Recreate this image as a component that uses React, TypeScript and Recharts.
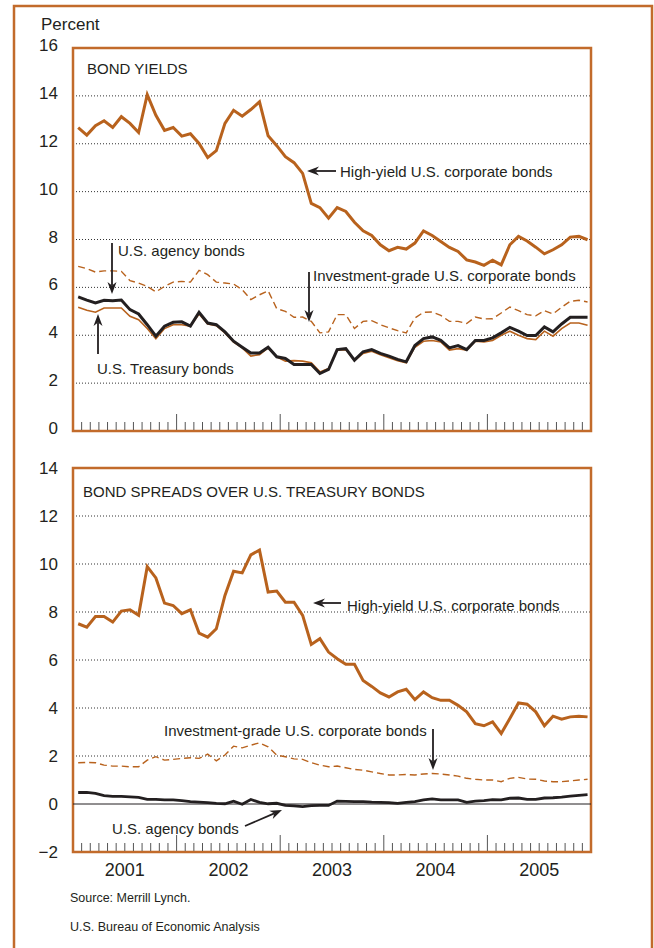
import React from 'react'
import {
  LineChart,
  Line,
  XAxis,
  YAxis,
  CartesianGrid,
  ReferenceArea,
  ReferenceLine
} from 'recharts'

// monthly readings, Jan 2001 - Dec 2005
const years = ['2001', '2002', '2003', '2004', '2005']

const highYieldYield = [
  12.67, 12.36, 12.75, 12.96, 12.68, 13.13, 12.85, 12.47, 14.05, 13.19,
  12.56, 12.68, 12.32, 12.42, 12.01, 11.42, 11.71, 12.85, 13.4, 13.15,
  13.43, 13.75, 12.33, 11.92, 11.46, 11.21, 10.76, 9.51, 9.33, 8.89,
  9.33, 9.17, 8.72, 8.36, 8.17, 7.78, 7.53, 7.67, 7.6, 7.85,
  8.36, 8.17, 7.92, 7.67, 7.5, 7.15, 7.06, 6.92, 7.13, 6.94,
  7.78, 8.13, 7.94, 7.68, 7.4, 7.57, 7.78, 8.1, 8.13, 7.99
]
const invGradeYield = [
  6.88, 6.78, 6.64, 6.69, 6.69, 6.67, 6.28, 6.18, 6.04, 5.81,
  6.04, 6.22, 6.25, 6.22, 6.71, 6.53, 6.22, 6.18, 6.14, 5.9,
  5.49, 5.69, 5.86, 5.11, 5.0, 4.75, 4.76, 4.58, 4.1, 4.14,
  4.86, 4.86, 4.28, 4.58, 4.61, 4.44, 4.31, 4.19, 4.1, 4.72,
  4.96, 4.97, 4.83, 4.58, 4.58, 4.49, 4.76, 4.68, 4.69, 4.93,
  5.18, 5.03, 4.86, 4.81, 5.03, 4.89, 5.17, 5.42, 5.46, 5.39
]
const agencyYield = [
  5.6, 5.47, 5.35, 5.46, 5.44, 5.47, 5.07, 4.89, 4.44, 3.96,
  4.38, 4.54, 4.56, 4.38, 4.96, 4.51, 4.44, 4.14, 3.75, 3.5,
  3.26, 3.26, 3.5, 3.1, 3.03, 2.78, 2.78, 2.78, 2.4, 2.57,
  3.4, 3.44, 2.96, 3.31, 3.4, 3.24, 3.13, 2.99, 2.89, 3.57,
  3.86, 3.93, 3.79, 3.47, 3.57, 3.4, 3.78, 3.78, 3.89, 4.1,
  4.33, 4.17, 3.99, 3.99, 4.35, 4.14, 4.47, 4.75, 4.75, 4.75
]
const treasuryYield = [
  5.17, 5.04, 4.96, 5.14, 5.14, 5.14, 4.79, 4.65, 4.28, 3.85,
  4.28, 4.44, 4.44, 4.38, 4.89, 4.47, 4.4, 4.1, 3.71, 3.47,
  3.13, 3.19, 3.47, 3.1, 2.92, 2.94, 2.92, 2.85, 2.47, 2.61,
  3.38, 3.4, 2.94, 3.24, 3.33, 3.19, 3.06, 2.94, 2.85, 3.5,
  3.75, 3.78, 3.72, 3.38, 3.44, 3.38, 3.75, 3.72, 3.78, 4.0,
  4.17, 4.0, 3.86, 3.82, 4.17, 3.96, 4.28, 4.51, 4.51, 4.42
]

const highYieldSpread = [
  7.51, 7.37, 7.81, 7.81, 7.58, 8.04, 8.09, 7.86, 9.89, 9.42,
  8.37, 8.27, 7.93, 8.09, 7.12, 6.95, 7.3, 8.69, 9.7, 9.63,
  10.38, 10.58, 8.83, 8.87, 8.41, 8.41, 7.86, 6.65, 6.89, 6.33,
  6.05, 5.82, 5.82, 5.15, 4.9, 4.63, 4.46, 4.67, 4.78, 4.35,
  4.67, 4.43, 4.32, 4.32, 4.11, 3.84, 3.35, 3.26, 3.42, 2.94,
  3.56, 4.21, 4.16, 3.84, 3.26, 3.66, 3.53, 3.63, 3.66, 3.63
]
const invGradeSpread = [
  1.72, 1.73, 1.72, 1.62, 1.58, 1.58, 1.55, 1.55, 1.83, 1.97,
  1.83, 1.86, 1.9, 1.93, 1.9, 2.08, 1.8, 2.04, 2.41, 2.34,
  2.45, 2.55, 2.38, 2.04, 1.97, 1.88, 1.86, 1.72, 1.62, 1.55,
  1.58, 1.51, 1.44, 1.41, 1.34, 1.27, 1.21, 1.21, 1.23, 1.21,
  1.25, 1.27, 1.25, 1.21, 1.16, 1.07, 1.03, 1.0, 1.0, 0.93,
  1.07, 1.11, 1.04, 1.03, 0.96, 0.93, 0.93, 0.96, 1.0, 1.03
]
const agencySpread = [
  0.48, 0.48, 0.44, 0.35, 0.32, 0.32, 0.3, 0.28, 0.19, 0.19,
  0.17, 0.17, 0.14, 0.1, 0.08, 0.06, 0.03, 0.01, 0.12, -0.01,
  0.19, 0.07, 0.01, 0.03, -0.06, -0.08, -0.11, -0.07, -0.06, -0.06,
  0.12, 0.11, 0.1, 0.1, 0.08, 0.07, 0.06, 0.03, 0.07, 0.1,
  0.17, 0.21, 0.17, 0.17, 0.17, 0.07, 0.12, 0.14, 0.18, 0.17,
  0.24, 0.25, 0.19, 0.19, 0.25, 0.26, 0.29, 0.33, 0.36, 0.39
]

const yieldTicks = [0, 2, 4, 6, 8, 10, 12, 14, 16]
const spreadTicks = [-2, 0, 2, 4, 6, 8, 10, 12, 14]

const monthTicks = Array.from({ length: 61 }, (_, i) => i)

// x = months since Jan 2001, points sit a little past the month start
const yieldData = highYieldYield.map((v, i) => ({
  m: i + 0.6,
  highYield: v,
  invGrade: invGradeYield[i],
  agency: agencyYield[i],
  treasury: treasuryYield[i]
}))
const spreadData = highYieldSpread.map((v, i) => ({
  m: i + 0.6,
  highYield: v,
  invGrade: invGradeSpread[i],
  agency: agencySpread[i]
}))

const orange = '#b8621d'
const border = '#c26b2b'
const ink = '#231f20'
const font = "'Liberation Sans', Arial, Helvetica, sans-serif"

const fmt = (v: number) => (v < 0 ? `\u2212${-v}` : `${v}`)

const makeYTick = (dy: number) => (props: any) => {
  const { x, y, payload } = props
  return (
    <text x={x} y={y + dy} textAnchor="end" dominantBaseline="central"
      fontSize={17} fill={ink} fontFamily={font}>
      {fmt(payload.value)}
    </text>
  )
}

const makeXTick = (showYears: boolean) => (props: any) => {
  const { x, y, payload } = props
  const v = payload.value
  if (v <= 0 || v >= 60) return <g />
  const major = v % 12 === 0
  return (
    <g>
      <line x1={x} x2={x} y1={y - 1} y2={y - (major ? 17 : 9)} stroke="#555" strokeWidth={1} />
      {showYears && v % 12 === 6 && (
        <text x={x} y={y + 18} textAnchor="middle" dominantBaseline="central"
          fontSize={18} fill={ink} fontFamily={font}>
          {years[(v - 6) / 12]}
        </text>
      )}
    </g>
  )
}

const Arrow = ({ x1, y1, x2, y2 }: { x1: number; y1: number; x2: number; y2: number }) => {
  const a = Math.atan2(y2 - y1, x2 - x1)
  const len = 12
  const w = 4.5
  const bx = x2 - len * Math.cos(a)
  const by = y2 - len * Math.sin(a)
  const nx = x2 - len * 0.7 * Math.cos(a)
  const ny = y2 - len * 0.7 * Math.sin(a)
  const px = -Math.sin(a) * w
  const py = Math.cos(a) * w
  return (
    <g>
      <line x1={x1} y1={y1} x2={nx} y2={ny} stroke={ink} strokeWidth={1.8} />
      <polygon
        points={`${x2},${y2} ${bx + px},${by + py} ${nx},${ny} ${bx - px},${by - py}`}
        fill={ink}
      />
    </g>
  )
}

const Label = ({ x, y, text, size = 15 }: { x: number; y: number; text: string; size?: number }) => (
  <text x={x} y={y} dominantBaseline="central" fontSize={size} fill={ink} fontFamily={font}>
    {text}
  </text>
)

const App: React.FC = () => {
  return (
    <div style={{ position: 'absolute', left: 0, top: 0, width: 654, height: 948, overflow: 'hidden', background: '#fff' }}>
      <div style={{ position: 'absolute', left: 0, top: 0 }}>
        <LineChart width={654} height={450} data={yieldData}
          margin={{ top: 48, right: 63, bottom: 0, left: 13 }}>
          <CartesianGrid vertical={false} horizontalValues={[2, 4, 6, 8, 10, 12, 14]}
            stroke="#333" strokeDasharray="1 2" />
          <XAxis dataKey="m" type="number" domain={[0, 60]} ticks={monthTicks} interval={0}
            height={19} axisLine={false} tickLine={false} tickSize={0} tickMargin={0}
            tick={makeXTick(false)} />
          <YAxis type="number" domain={[0, 16]} ticks={yieldTicks} interval={0} width={60}
            axisLine={false} tickLine={false} tickSize={0} tickMargin={15} tick={makeYTick(-2.5)} />
          <Line dataKey="invGrade" stroke={orange} strokeWidth={1.4} strokeDasharray="7 4"
            dot={false} activeDot={false} isAnimationActive={false} />
          <Line dataKey="treasury" stroke={orange} strokeWidth={1.6}
            dot={false} activeDot={false} isAnimationActive={false} />
          <Line dataKey="agency" stroke={ink} strokeWidth={3}
            dot={false} activeDot={false} isAnimationActive={false} />
          <Line dataKey="highYield" stroke={orange} strokeWidth={3}
            dot={false} activeDot={false} isAnimationActive={false} />
          <ReferenceArea x1={0} x2={60} y1={0} y2={16} fill="none" stroke={border} strokeWidth={2.5} />
        </LineChart>
      </div>
      <div style={{ position: 'absolute', left: 0, top: 440 }}>
        <LineChart width={654} height={460} data={spreadData}
          margin={{ top: 28, right: 63, bottom: 0, left: 13 }}>
          <CartesianGrid vertical={false} horizontalValues={[2, 4, 6, 8, 10, 12]}
            stroke="#333" strokeDasharray="1 2" />
          <XAxis dataKey="m" type="number" domain={[0, 60]} ticks={monthTicks} interval={0}
            height={48} axisLine={false} tickLine={false} tickSize={0} tickMargin={0}
            tick={makeXTick(true)} />
          <YAxis type="number" domain={[-2, 14]} ticks={spreadTicks} interval={0} width={60}
            axisLine={false} tickLine={false} tickSize={0} tickMargin={15} tick={makeYTick(0)} />
          <ReferenceLine y={0} stroke={ink} strokeWidth={1} />
          <Line dataKey="invGrade" stroke={orange} strokeWidth={1.4} strokeDasharray="7 4"
            dot={false} activeDot={false} isAnimationActive={false} />
          <Line dataKey="agency" stroke={ink} strokeWidth={2.8}
            dot={false} activeDot={false} isAnimationActive={false} />
          <Line dataKey="highYield" stroke={orange} strokeWidth={3}
            dot={false} activeDot={false} isAnimationActive={false} />
          <ReferenceArea x1={0} x2={60} y1={-2} y2={14} fill="none" stroke={border} strokeWidth={2.5} />
        </LineChart>
      </div>
      <svg width={654} height={948} style={{ position: 'absolute', left: 0, top: 0, pointerEvents: 'none' }}>
        <rect x={14} y={6} width={638} height={1000} fill="none" stroke={border} strokeWidth={2.5} />
        <Label x={41} y={24} text="Percent" size={17} />
        <Label x={87} y={68} text="BOND YIELDS" />
        <Label x={83} y={491} text="BOND SPREADS OVER U.S. TREASURY BONDS" />

        <Arrow x1={336} y1={171} x2={307} y2={171} />
        <Label x={340} y={171} text="High-yield U.S. corporate bonds" />
        <Arrow x1={112} y1={243} x2={112} y2={294} />
        <Label x={118} y={250} text="U.S. agency bonds" />
        <Arrow x1={309} y1={272} x2={309} y2={322} />
        <Label x={313} y={275} text="Investment-grade U.S. corporate bonds" />
        <Arrow x1={98} y1={354} x2={98} y2={314} />
        <Label x={97} y={368} text="U.S. Treasury bonds" />

        <Arrow x1={341} y1={603} x2={313} y2={603} />
        <Label x={347} y={605} text="High-yield U.S. corporate bonds" />
        <Arrow x1={433} y1={729} x2={433} y2={770} />
        <Label x={164} y={730} text="Investment-grade U.S. corporate bonds" />
        <Arrow x1={245} y1={826} x2={282} y2={810} />
        <Label x={112} y={828} text="U.S. agency bonds" />

        <Label x={70} y={898} text="Source: Merrill Lynch." size={12.5} />
        <Label x={70} y={927} text="U.S. Bureau of Economic Analysis" size={12.5} />
      </svg>
    </div>
  )
}

export default App
